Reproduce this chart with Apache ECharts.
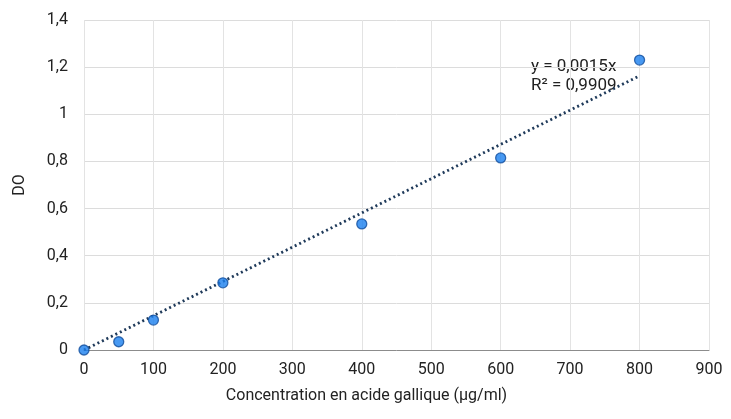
<!DOCTYPE html>
<html>
<head>
<meta charset="utf-8">
<script src="https://cdn.jsdelivr.net/npm/echarts@6/dist/echarts.min.js"></script>
<style>
  html, body { margin: 0; padding: 0; background: #fff; }
  #chart { width: 731px; height: 419px; }
</style>
</head>
<body>
<div id="chart"></div>
<script>
// mesures
const concentrations = [0, 50, 100, 200, 400, 600, 800];
const absorbances = [0, 0.035, 0.127, 0.285, 0.535, 0.815, 1.23];
// courbe de tendance
const trendX = [0, 800];
const trendY = [0, 1.163];
const equationLines = ['y = 0,0015x', 'R² = 0,9909'];

const fmt = v => String(v).replace('.', ',');

let chart = echarts.init(document.getElementById('chart'));
let option = {
  animation: false,
  textStyle: { fontFamily: 'Roboto' },
  grid: { left: 84, right: 22, top: 20, bottom: 69 },
  xAxis: {
    type: 'value',
    min: 0,
    max: 900,
    interval: 100,
    name: 'Concentration en acide gallique (µg/ml)',
    nameLocation: 'middle',
    nameGap: 38,
    nameTextStyle: { fontSize: 16, color: '#222', padding: [0, 60, 0, 0] },
    axisLine: { show: true, lineStyle: { color: '#8c8c8c', width: 1 } },
    axisTick: { show: false },
    axisLabel: { fontSize: 16, color: '#222', margin: 12 },
    splitLine: { show: true, lineStyle: { color: '#e3e3e3' } },
  },
  yAxis: {
    type: 'value',
    min: 0,
    max: 1.4,
    interval: 0.2,
    name: 'DO',
    nameLocation: 'middle',
    nameGap: 56,
    nameTextStyle: { fontSize: 16, color: '#222' },
    axisLine: { show: false },
    axisTick: { show: false },
    axisLabel: {
      fontSize: 16,
      color: '#222',
      margin: 16,
      formatter: v => fmt(Math.round(v * 10) / 10),
    },
    splitLine: { show: true, lineStyle: { color: '#dcdcdc' } },
  },
  series: [
    {
      name: 'tendance',
      type: 'line',
      data: trendX.map((x, i) => [x, trendY[i]]),
      symbol: 'none',
      lineStyle: { color: '#1f3a5a', width: 2.8, type: [2, 3] },
      z: 2,
    },
    {
      name: 'DO',
      type: 'scatter',
      data: concentrations.map((x, i) => [x, absorbances[i]]),
      symbolSize: 10,
      itemStyle: { color: '#1a7fef', borderColor: '#124e9c', borderWidth: 1.3 },
      z: 3,
    },
  ],
  graphic: [
    {
      type: 'text',
      left: 531,
      top: 57,
      style: {
        text: equationLines.join('\n'),
        font: '17px Roboto',
        fill: '#222',
        lineHeight: 19,
      },
    },
  ],
};
chart.setOption(option);
</script>
</body>
</html>
